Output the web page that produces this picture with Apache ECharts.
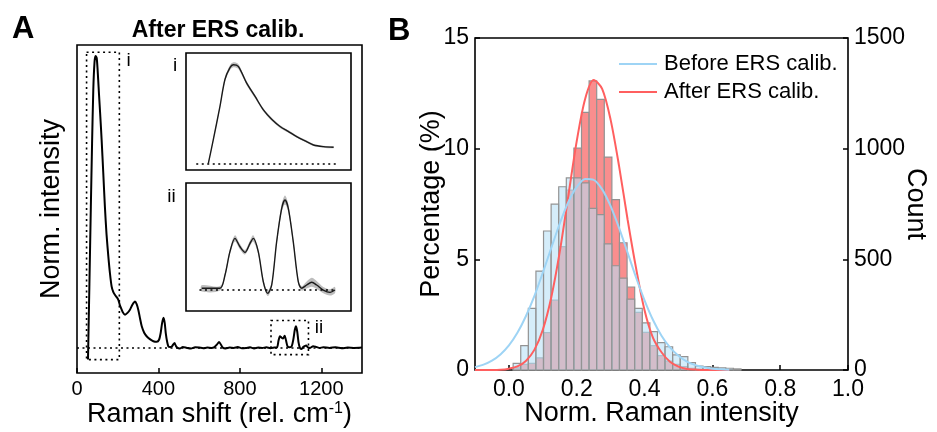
<!DOCTYPE html>
<html>
<head>
<meta charset="utf-8">
<script src="https://cdn.jsdelivr.net/npm/echarts@6/dist/echarts.min.js"></script>
<style>
html, body { margin: 0; padding: 0; background: #fff; }
#chart { width: 937px; height: 432px; }
</style>
</head>
<body>
<div id="chart"></div>
<script>
var FONT = '"Liberation Sans", Arial, sans-serif';

// Panel A: mean spectrum after ERS calibration (baseline = 0, max = 1)
var ramanShift = [54, 61, 68, 74, 80, 86, 91, 97, 104, 108, 114, 121, 129, 137, 145, 154, 162, 170, 178, 186,
  195, 203, 210, 216, 225, 236, 248, 260, 272, 285, 293, 301, 310, 318, 330, 342, 358, 375, 392, 403,
  411, 418, 425, 431, 436, 443, 449, 457, 466, 473, 479, 485, 492, 505, 520, 540, 560, 580, 600, 620,
  640, 660, 675, 688, 698, 708, 716, 730, 750, 770, 790, 810, 830, 850, 870, 890, 910, 930, 950, 970,
  983, 990, 997, 1005, 1012, 1020, 1027, 1034, 1045, 1055, 1063, 1070, 1076, 1082, 1088, 1095, 1102, 1110, 1118, 1126,
  1134, 1145, 1160, 1172, 1190, 1210, 1240, 1270, 1300, 1330, 1360, 1400];
var normIntensity = [-0.04, 0.22, 0.484, 0.70, 0.884, 0.979, 1.0, 0.993, 0.92, 0.87, 0.80, 0.713, 0.60, 0.484, 0.39, 0.313, 0.255, 0.211, 0.192, 0.182,
  0.174, 0.165, 0.148, 0.137, 0.122, 0.114, 0.12, 0.131, 0.148, 0.159, 0.15, 0.131, 0.10, 0.074, 0.052, 0.04, 0.03, 0.023, 0.021, 0.028,
  0.051, 0.085, 0.103, 0.085, 0.051, 0.02, 0.005, 0.003, 0.005, 0.012, 0.017, 0.008, 0.001, -0.002, 0.003, 0.0, -0.002, 0.002, 0.001, -0.001,
  0.001, 0.0, 0.003, 0.012, 0.02, 0.01, 0.001, -0.002, 0.001, 0.0, 0.003, -0.001, 0.0, 0.002, -0.002, 0.001, 0.0, 0.002, -0.001, 0.001,
  0.002, 0.025, 0.04, 0.035, 0.032, 0.042, 0.025, 0.006, 0.002, 0.006, 0.03, 0.062, 0.074, 0.055, 0.02, 0.0, -0.004, 0.002, 0.006, 0.008,
  0.002, 0.0, 0.006, 0.004, 0.0, 0.002, 0.0, 0.002, -0.001, 0.001, 0.0, 0.001];
var ticksA = [0, 400, 800, 1200];
// dotted zoom boxes [x0, y0, x1, y1]
var boxI = [47, 1.013, 208, -0.04];
var boxII = [953, 0.094, 1137, -0.023];

// Inset i: mean +- sd
var insetIShift = [68.8, 73.6, 80.1, 85, 89.9, 93.1, 98, 106.2, 114.4, 122.5, 130.6, 138.8, 147, 155, 163.3, 171.4, 181.2, 191];
var insetIMean = [0, 0.237, 0.576, 0.85, 0.97, 1.0, 0.983, 0.813, 0.678, 0.542, 0.447, 0.373, 0.322, 0.271, 0.227, 0.186, 0.169, 0.163];
var insetISd = [0.01, 0.012, 0.015, 0.02, 0.025, 0.025, 0.025, 0.02, 0.018, 0.016, 0.015, 0.014, 0.013, 0.012, 0.012, 0.011, 0.01, 0.01];

// Inset ii: mean +- sd
var insetIIShift = [970.5, 990.9, 996.5, 1002, 1007.6, 1013.2, 1018.8, 1024.4, 1028, 1033.6, 1039.2, 1044.1, 1048.6,
  1054.1, 1059.7, 1063.4, 1067.1, 1072.6, 1078.2, 1082, 1087.6, 1093.2, 1098.7, 1106.1, 1113.6, 1119.1];
var insetIIMean = [0.019, 0.019, 0.167, 0.426, 0.574, 0.481, 0.419, 0.519, 0.574, 0.426, 0.092, -0.037, 0.056,
  0.537, 0.908, 1.0, 0.908, 0.537, 0.092, 0.019, 0.056, 0.086, 0.056, 0.0, -0.026, 0.0];
var insetIISd = [0.035, 0.025, 0.025, 0.03, 0.035, 0.03, 0.025, 0.03, 0.035, 0.03, 0.025, 0.03, 0.03,
  0.035, 0.045, 0.05, 0.045, 0.035, 0.025, 0.025, 0.04, 0.05, 0.045, 0.035, 0.035, 0.035];

// Panel B: histograms (percentage per bin)
var binStart = 0.0125;
var binWidth = 0.0224;
var pctBefore = [0.30, 1.10, 2.78, 4.47, 6.28, 7.49, 8.28, 8.68, 8.68, 8.45, 7.30, 7.02, 5.70, 4.71, 4.15,
  3.20, 2.78, 2.13, 1.73, 1.24, 1.05, 0.68, 0.60, 0.33, 0.18, 0.15, 0.12, 0.10, 0.08, 0.05];
var pctAfter = [0.10, 0.25, 0.30, 0.55, 1.69, 3.16, 5.57, 8.13, 10.02, 11.64, 13.06, 12.23, 9.62, 7.70, 5.75,
  3.75, 2.60, 1.70, 1.10, 0.65, 0.40, 0.25, 0.15, 0.08, 0.04, 0, 0, 0, 0, 0];
// fitted curves
var fitX = [-0.1, -0.075, -0.05, -0.025, 0, 0.025, 0.05, 0.075, 0.1, 0.125, 0.15, 0.175, 0.2, 0.225, 0.25, 0.275,
  0.3, 0.325, 0.35, 0.375, 0.4, 0.425, 0.45, 0.475, 0.5, 0.525, 0.55, 0.575, 0.6, 0.625, 0.65];
var fitBefore = [0.13, 0.24, 0.42, 0.70, 1.11, 1.68, 2.43, 3.34, 4.40, 5.52, 6.62, 7.58, 8.27, 8.63, 8.59, 8.16,
  7.40, 6.41, 5.30, 4.18, 3.15, 2.26, 1.55, 1.02, 0.64, 0.38, 0.22, 0.12, 0.06, 0.03, 0.01];
var fitAfter = [0, 0, 0, 0.01, 0.06, 0.16, 0.41, 0.91, 1.82, 3.29, 5.35, 7.84, 10.34, 12.26, 13.1, 12.7,
  11.3, 9.2, 6.8, 4.6, 2.7, 1.45, 0.8, 0.37, 0.15, 0.05, 0.02, 0, 0, 0, 0];
var ticksB = [0, 0.2, 0.4, 0.6, 0.8, 1.0];

var chart = echarts.init(document.getElementById('chart'));

function pairs(xs, ys) {
  return xs.map(function (x, i) { return [x, ys[i]]; });
}

function histData(vals) {
  return vals.map(function (v, i) {
    var x0 = binStart + i * binWidth;
    return [x0, x0 + binWidth, v];
  });
}

function histSeries(vals, fill) {
  return {
    type: 'custom', xAxisIndex: 3, yAxisIndex: 3, silent: true,
    encode: { x: [0, 1], y: 2 },
    data: histData(vals),
    renderItem: function (params, api) {
      var p0 = api.coord([api.value(0), api.value(2)]);
      var p1 = api.coord([api.value(1), 0]);
      return {
        type: 'rect',
        shape: { x: p0[0], y: p0[1], width: p1[0] - p0[0], height: p1[1] - p0[1] },
        style: { fill: fill, stroke: '#939393', lineWidth: 1.2 }
      };
    }
  };
}

function bandSeries(idx, xs, mean, sd) {
  return {
    type: 'custom', xAxisIndex: idx, yAxisIndex: idx, silent: true,
    data: [[xs[0], mean[0]]],
    renderItem: function (params, api) {
      var pts = [];
      for (var i = 0; i < xs.length; i++) pts.push(api.coord([xs[i], mean[i] + sd[i]]));
      for (var j = xs.length - 1; j >= 0; j--) pts.push(api.coord([xs[j], mean[j] - sd[j]]));
      return { type: 'polygon', shape: { points: pts, smooth: 0.3 }, style: { fill: '#bdbdbd' } };
    }
  };
}

function dotted(x0, x1) {
  return {
    silent: true, symbol: 'none', label: { show: false },
    lineStyle: { color: '#000', width: 1.6, type: [2, 3.5] },
    data: [[{ coord: [x0, 0] }, { coord: [x1, 0] }]]
  };
}

function hiddenAxis(grid, min, max) {
  return { type: 'value', gridIndex: grid, min: min, max: max, show: false };
}

function plain(v) { return String(v); }

var txt = { color: '#000', fontFamily: FONT };
var tickStyle = { color: '#000', width: 1.5 };

var option = {
  animation: false,
  textStyle: { fontFamily: FONT },
  grid: [
    { left: 77, top: 45, width: 285, height: 328, show: true, borderColor: '#000', borderWidth: 1.6, outerBoundsMode: 'none' },
    { left: 186, top: 53, width: 165, height: 117, show: true, borderColor: '#000', borderWidth: 1.6, outerBoundsMode: 'none' },
    { left: 186, top: 183, width: 165, height: 128, show: true, borderColor: '#000', borderWidth: 1.6, outerBoundsMode: 'none' },
    { left: 475, top: 38, width: 373, height: 332, show: true, borderColor: '#000', borderWidth: 1.6, outerBoundsMode: 'none' }
  ],
  legend: {
    data: [{ name: 'Before ERS calib.', icon: 'rect' }, { name: 'After ERS calib.', icon: 'rect' }],
    orient: 'vertical', left: 614, top: 47,
    itemWidth: 38, itemHeight: 2, itemGap: 4,
    textStyle: { color: '#000', fontFamily: FONT, fontSize: 22, lineHeight: 24, padding: [0, 0, 0, 2] }
  },
  xAxis: [
    {
      type: 'value', gridIndex: 0, min: 0, max: 1400,
      axisLine: { show: false, onZero: false },
      axisTick: { inside: true, length: 5, lineStyle: tickStyle, customValues: ticksA },
      axisLabel: Object.assign({ fontSize: 20, margin: 6, customValues: ticksA, formatter: plain }, txt),
      splitLine: { show: false },
      name: '{a|Raman shift (rel. cm}{s|-1}{a|)}', nameLocation: 'middle', nameGap: 28, nameMoveOverlap: false,
      nameTextStyle: { rich: { a: Object.assign({ fontSize: 27 }, txt), s: Object.assign({ fontSize: 16, verticalAlign: 'top' }, txt) } }
    },
    hiddenAxis(1, 47, 208),
    hiddenAxis(2, 953, 1137),
    {
      type: 'value', gridIndex: 3, min: -0.1, max: 1.0,
      axisLine: { show: false, onZero: false },
      axisTick: { inside: true, length: 5, lineStyle: tickStyle, customValues: ticksB },
      axisLabel: Object.assign({ fontSize: 23, margin: 8, customValues: ticksB, formatter: function (v) { return v.toFixed(1); } }, txt),
      splitLine: { show: false },
      name: 'Norm. Raman intensity', nameLocation: 'middle', nameGap: 30, nameMoveOverlap: false,
      nameTextStyle: Object.assign({ fontSize: 27 }, txt)
    }
  ],
  yAxis: [
    {
      type: 'value', gridIndex: 0, min: -0.086, max: 1.038,
      axisLine: { show: false, onZero: false }, axisTick: { show: false }, axisLabel: { show: false }, splitLine: { show: false },
      name: 'Norm. intensity', nameLocation: 'middle', nameGap: 12, nameMoveOverlap: false,
      nameTextStyle: Object.assign({ fontSize: 27 }, txt)
    },
    hiddenAxis(1, -0.068, 1.119),
    hiddenAxis(2, -0.233, 1.189),
    {
      type: 'value', gridIndex: 3, position: 'left', min: 0, max: 15, interval: 5,
      axisLine: { show: false, onZero: false },
      axisTick: { inside: true, length: 5, lineStyle: tickStyle },
      axisLabel: Object.assign({ fontSize: 23, margin: 6, formatter: plain }, txt),
      splitLine: { show: false },
      name: 'Percentage (%)', nameLocation: 'middle', nameGap: 30, nameMoveOverlap: false,
      nameTextStyle: Object.assign({ fontSize: 27 }, txt)
    },
    {
      type: 'value', gridIndex: 3, position: 'right', min: 0, max: 1500, interval: 500,
      axisLine: { show: false, onZero: false },
      axisTick: { inside: true, length: 5, lineStyle: tickStyle },
      axisLabel: Object.assign({ fontSize: 23, margin: 6, formatter: plain }, txt),
      splitLine: { show: false },
      name: 'Count', nameLocation: 'middle', nameGap: 54, nameRotate: -90, nameMoveOverlap: false,
      nameTextStyle: Object.assign({ fontSize: 27 }, txt)
    }
  ],
  series: [
    {
      type: 'line', xAxisIndex: 0, yAxisIndex: 0, data: pairs(ramanShift, normIntensity),
      symbol: 'none', smooth: 0.25, silent: true,
      lineStyle: { color: '#000', width: 2 },
      markLine: dotted(0, 1400),
      markArea: {
        silent: true, label: { show: false },
        itemStyle: { color: 'rgba(0,0,0,0)', borderColor: '#000', borderWidth: 1.6, borderType: [2, 3.5] },
        data: [
          [{ coord: [boxI[0], boxI[1]] }, { coord: [boxI[2], boxI[3]] }],
          [{ coord: [boxII[0], boxII[1]] }, { coord: [boxII[2], boxII[3]] }]
        ]
      }
    },
    bandSeries(1, insetIShift, insetIMean, insetISd),
    {
      type: 'line', xAxisIndex: 1, yAxisIndex: 1, data: pairs(insetIShift, insetIMean),
      symbol: 'none', smooth: 0.3, silent: true,
      lineStyle: { color: '#1a1a1a', width: 1.4 },
      markLine: dotted(57, 194)
    },
    bandSeries(2, insetIIShift, insetIIMean, insetIISd),
    {
      type: 'line', xAxisIndex: 2, yAxisIndex: 2, data: pairs(insetIIShift, insetIIMean),
      symbol: 'none', smooth: 0.3, silent: true,
      lineStyle: { color: '#1a1a1a', width: 1.4 },
      markLine: dotted(968, 1121)
    },
    histSeries(pctAfter, '#f98e8e'),
    {
      name: 'After ERS calib.', type: 'line', xAxisIndex: 3, yAxisIndex: 3, data: pairs(fitX, fitAfter),
      symbol: 'none', smooth: 0.3, silent: true,
      lineStyle: { color: '#ff5f5f', width: 2 }, itemStyle: { color: '#ff5f5f' }
    },
    histSeries(pctBefore, 'rgba(182,224,247,0.58)'),
    {
      name: 'Before ERS calib.', type: 'line', xAxisIndex: 3, yAxisIndex: 3, data: pairs(fitX, fitBefore),
      symbol: 'none', smooth: 0.3, silent: true,
      lineStyle: { color: '#9ed4f5', width: 2 }, itemStyle: { color: '#9ed4f5' }
    }
  ],
  graphic: [
    { type: 'text', left: 12, top: 14, style: { text: 'A', font: 'bold 31px ' + FONT, fill: '#000' } },
    { type: 'text', left: 388, top: 16, style: { text: 'B', font: 'bold 31px ' + FONT, fill: '#000' } },
    { type: 'text', x: 218, y: 31, style: { text: 'After ERS calib.', font: 'bold 23px ' + FONT, fill: '#000', align: 'center', verticalAlign: 'middle' } },
    { type: 'text', x: 128.5, y: 61, style: { text: 'i', font: '19px ' + FONT, fill: '#000', align: 'center', verticalAlign: 'middle' } },
    { type: 'text', x: 319, y: 328, style: { text: 'ii', font: '19px ' + FONT, fill: '#000', align: 'center', verticalAlign: 'middle' } },
    { type: 'text', x: 175, y: 66, style: { text: 'i', font: '19px ' + FONT, fill: '#000', align: 'center', verticalAlign: 'middle' } },
    { type: 'text', x: 171.5, y: 197, style: { text: 'ii', font: '19px ' + FONT, fill: '#000', align: 'center', verticalAlign: 'middle' } }
  ]
};

chart.setOption(option);
</script>
</body>
</html>
